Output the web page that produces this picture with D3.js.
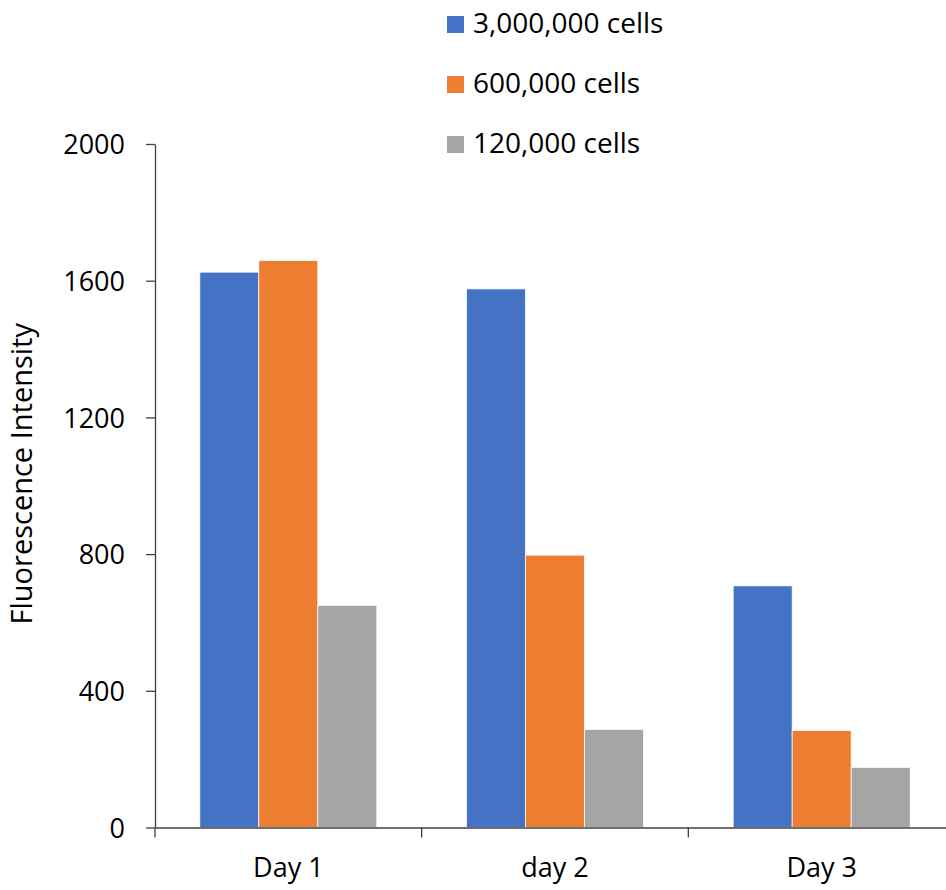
<!DOCTYPE html>
<html>
<head>
<meta charset="utf-8">
<script src="https://cdn.jsdelivr.net/npm/d3@7"></script>
<style>
  html, body { margin: 0; padding: 0; background: #fff; }
  svg text { font-family: "Open Sans", "Noto Sans", sans-serif; fill: #000; }
</style>
</head>
<body>
<svg id="chart" width="946" height="890"></svg>
<script>
// Fluorescence intensity by day for three seeding densities
const days = ["Day 1", "day 2", "Day 3"];
const seriesNames = ["3,000,000 cells", "600,000 cells", "120,000 cells"];
const seriesColors = ["#4472C4", "#ED7D31", "#A5A5A5"];
const cells3M = [1625, 1576, 707];
const cells600k = [1659, 797, 284];
const cells120k = [650, 287, 176];
const yTicks = [0, 400, 800, 1200, 1600, 2000];

const seriesValues = [cells3M, cells600k, cells120k];
const rows = days.map((day, i) => ({
  day,
  values: seriesNames.map((name, j) => ({ name, color: seriesColors[j], value: seriesValues[j][i] }))
}));

const svg = d3.select("#chart");
const plotLeft = 155, plotRight = 955, plotTop = 144, plotBottom = 827.5;
const fontSize = 27;

const x0 = d3.scaleBand().domain(days).range([plotLeft, plotRight]).paddingInner(0).paddingOuter(0);
const x1 = d3.scaleBand().domain(seriesNames).range([0, x0.bandwidth()]).paddingInner(0).paddingOuter(0.76);
const y = d3.scaleLinear().domain([0, 2000]).range([plotBottom, plotTop]);

// Bars
svg.append("g").selectAll("g")
  .data(rows)
  .join("g")
  .attr("transform", d => `translate(${x0(d.day)},0)`)
  .selectAll("rect")
  .data(d => d.values)
  .join("rect")
  .attr("x", d => x1(d.name))
  .attr("width", x1.bandwidth())
  .attr("y", d => y(d.value))
  .attr("height", d => y(0) - y(d.value))
  .attr("fill", d => d.color)
  .attr("stroke", "#fff")
  .attr("stroke-width", 0.75);

// Y axis
const yAxis = svg.append("g")
  .attr("transform", `translate(${plotLeft},0)`)
  .call(d3.axisLeft(y).tickValues(yTicks).tickSize(9).tickSizeOuter(0).tickPadding(21).tickFormat(d3.format("d")));
yAxis.select(".domain").attr("stroke", "#404040").attr("stroke-width", 1.3);
yAxis.selectAll(".tick line").attr("stroke", "#404040").attr("stroke-width", 1.3);
yAxis.selectAll(".tick text").style("font-size", fontSize + "px").attr("dy", "0.36em");

// X axis
const xAxis = svg.append("g")
  .attr("transform", `translate(0,${plotBottom})`)
  .call(d3.axisBottom(x0).tickSize(0).tickPadding(30).tickSizeOuter(0));
xAxis.select(".domain").attr("stroke", "#404040").attr("stroke-width", 1.3);
xAxis.selectAll(".tick text").style("font-size", fontSize + "px").attr("dy", "0.71em");

// Category boundary ticks
const boundaries = days.map(d => x0(d)).concat([x0.range()[1]]);
xAxis.selectAll("line.boundary")
  .data(boundaries)
  .join("line")
  .attr("class", "boundary")
  .attr("x1", d => d).attr("x2", d => d)
  .attr("y1", 0).attr("y2", 10)
  .attr("stroke", "#404040")
  .attr("stroke-width", 1.3);

// Y axis title
svg.append("text")
  .attr("transform", `translate(32,${(plotTop + plotBottom) / 2 - 12}) rotate(-90)`)
  .attr("text-anchor", "middle")
  .style("font-size", "29px")
  .text("Fluorescence Intensity");

// Legend
const legend = svg.append("g").attr("transform", "translate(447,0)");
const legendRows = legend.selectAll("g")
  .data(seriesNames)
  .join("g")
  .attr("transform", (d, i) => `translate(0,${16 + i * 60})`);
legendRows.append("rect")
  .attr("width", 17).attr("height", 17)
  .attr("fill", (d, i) => seriesColors[i]);
legendRows.append("text")
  .attr("x", 26)
  .attr("y", 17)
  .style("font-size", "28px")
  .text(d => d);
</script>
</body>
</html>
